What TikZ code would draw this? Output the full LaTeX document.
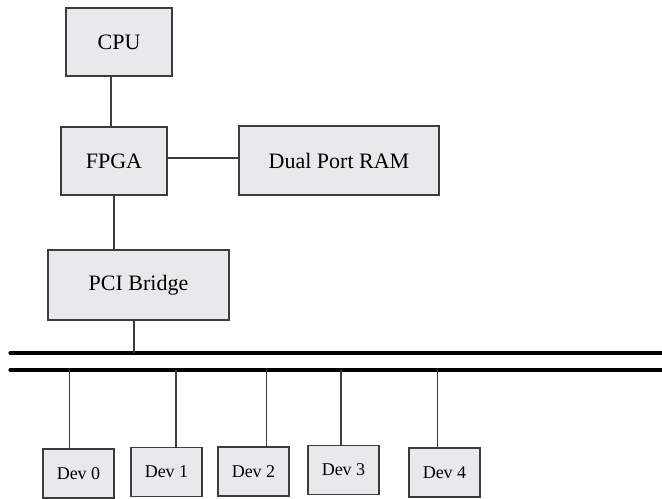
\documentclass[tikz,border=0pt]{standalone}
\usepackage{fontspec}
\setmainfont{Liberation Serif}
\usepackage{tikz}
\usetikzlibrary{calc}
\definecolor{boxgray}{HTML}{E8E9EB}
\definecolor{linegray}{HTML}{3C3C3C}
\begin{document}
\begin{tikzpicture}[x=0.75pt, y=-0.75pt,
    unit/.style={rectangle, draw=linegray, fill=boxgray, line width=0.9pt, inner sep=0pt, font=\fontsize{16.5}{18}\selectfont},
    devbox/.style={unit, minimum width=53.25pt, minimum height=36.75pt, font=\fontsize{13.5}{15}\selectfont},
    wire/.style={draw=linegray, line width=0.8pt},
    bus/.style={draw=black, line width=2.4pt, line cap=round}]
    \useasboundingbox (0,0) rectangle (662,499);
    % Place nodes
    \node [unit, minimum width=79.5pt, minimum height=51pt] (CPU) at (119,42) {CPU};
    \node [unit, minimum width=79.5pt, minimum height=51pt] (FPGA) at (114,161) {FPGA};
    \node [unit, minimum width=150pt, minimum height=51.75pt] (RAM) at (339,160.5) {Dual Port RAM};
    \node [unit, minimum width=135.75pt, minimum height=52.5pt] (PCI) at (138.5,285) {PCI Bridge};
    \foreach \n/\cx/\cy in {0/78.5/473.5, 1/166.5/472, 2/253.5/471.5, 3/343.5/470, 4/444.5/472.5}
        \node [devbox] (dev\n) at (\cx,\cy) {Dev \n};
    % PCI bus
    \coordinate (busA-l) at (10,353);
    \coordinate (busA-r) at (662,353);
    \coordinate (busB-l) at (10,370);
    \coordinate (busB-r) at (662,370);
    \path [bus] (busA-l) -- (busA-r);
    \path [bus] (busB-l) -- (busB-r);
    % Connections
    \path [wire] ([xshift=-6pt]CPU.south) -- ([xshift=-6pt]CPU.south |- FPGA.north);
    \path [wire] ([yshift=2.25pt]FPGA.east) -- ([yshift=2.25pt]FPGA.east -| RAM.west);
    \path [wire] (FPGA.south) -- (FPGA.south |- PCI.north);
    \path [wire] ([xshift=-3.4pt]PCI.south) -- ([xshift=-3.4pt]PCI.south |- busA-l);
    \foreach \n/\dx in {0/-7.1, 1/7.1, 2/9.4, 3/-1.9, 4/-5.6}
        \path [wire] ([xshift=\dx pt]dev\n.north) -- ([xshift=\dx pt]dev\n.north |- busB-l);
\end{tikzpicture}
\end{document}
